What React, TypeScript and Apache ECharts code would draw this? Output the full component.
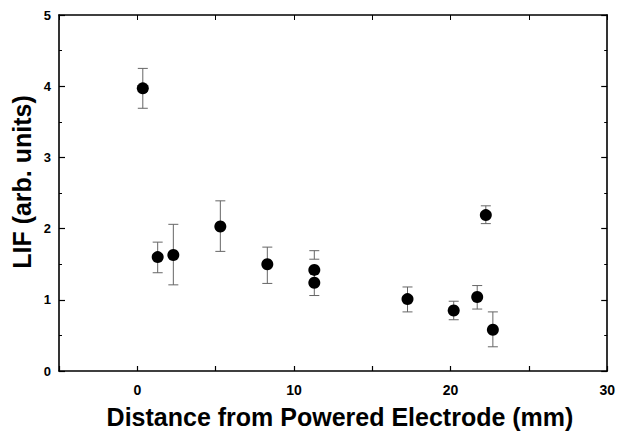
import React, { useEffect, useRef } from "react";
import * as echarts from "echarts";

const distance = [0.35, 1.3, 2.3, 5.3, 8.3, 11.3, 11.3, 17.25, 20.2, 21.7, 22.25, 22.7];
const lif = [3.97, 1.6, 1.63, 2.03, 1.5, 1.42, 1.24, 1.01, 0.85, 1.04, 2.19, 0.58];
const errLow = [3.69, 1.38, 1.21, 1.68, 1.23, 1.57, 1.06, 0.83, 0.72, 0.87, 2.07, 0.34];
const errHigh = [4.25, 1.81, 2.06, 2.39, 1.74, 1.69, 1.42, 1.18, 0.98, 1.2, 2.32, 0.83];
const xTicks = [0, 10, 20, 30];
const xTitle = "Distance from Powered Electrode (mm)";
const yTitle = "LIF (arb. units)";

const FONT = "Liberation Sans, Arial, sans-serif";

export default function App() {
  const ref = useRef<HTMLDivElement>(null);
  useEffect(() => {
    if (!ref.current) return;
    const chart = echarts.init(ref.current, undefined, { renderer: "svg" });
    const pts = distance.map((x, i) => [x, lif[i]]);
    const errs = distance.map((x, i) => [x, errLow[i], errHigh[i]]);
    const axisLine = { show: true, onZero: false, lineStyle: { color: "#000", width: 1.6 } };
    chart.setOption({
      animation: false,
      backgroundColor: "#fff",
      grid: { left: 59, right: 9, top: 15, bottom: 61, containLabel: false },
      graphic: [
        {
          type: "text",
          x: 340,
          y: 417,
          style: {
            text: xTitle,
            fontFamily: FONT,
            fontWeight: "bold",
            fontSize: 25,
            fill: "#000",
            align: "center",
            verticalAlign: "middle",
          },
        },
        {
          type: "text",
          x: 22,
          y: 182,
          rotation: Math.PI / 2,
          style: {
            text: yTitle,
            fontFamily: FONT,
            fontWeight: "bold",
            fontSize: 25,
            fill: "#000",
            align: "center",
            verticalAlign: "middle",
          },
        },
      ],
      xAxis: [
        {
          type: "value",
          min: -5,
          max: 30,
          interval: 5,
          position: "bottom",
          axisLine,
          axisTick: { show: true, inside: true, length: 5, lineStyle: { color: "#000", width: 1.2 } },
          axisLabel: {
            margin: 12,
            fontFamily: FONT,
            fontWeight: "bold",
            fontSize: 14,
            color: "#000",
            formatter: (v: number) => (xTicks.includes(v) ? String(v) : ""),
          },
          splitLine: { show: false },
        },
        {
          type: "value",
          min: -5,
          max: 30,
          interval: 5,
          position: "top",
          axisLine,
          axisTick: { show: true, inside: true, length: 5, lineStyle: { color: "#000", width: 1 } },
          axisLabel: { show: false },
          splitLine: { show: false },
        },
      ],
      yAxis: [
        {
          type: "value",
          min: 0,
          max: 5,
          interval: 1,
          position: "left",
          axisLine,
          axisTick: { show: true, inside: true, length: 6, lineStyle: { color: "#000", width: 1.2 } },
          minorTick: { show: true, splitNumber: 2, length: 3, lineStyle: { color: "#000", width: 1 } },
          axisLabel: { margin: 8, fontFamily: FONT, fontWeight: "bold", fontSize: 13, color: "#000" },
          splitLine: { show: false },
          minorSplitLine: { show: false },
        },
        {
          type: "value",
          min: 0,
          max: 5,
          interval: 1,
          position: "right",
          axisLine,
          axisTick: { show: true, inside: true, length: 6, lineStyle: { color: "#000", width: 1.2 } },
          minorTick: { show: true, splitNumber: 2, length: 3, lineStyle: { color: "#000", width: 1 } },
          axisLabel: { show: false },
          splitLine: { show: false },
          minorSplitLine: { show: false },
        },
      ],
      series: [
        {
          type: "custom",
          xAxisIndex: 0,
          yAxisIndex: 0,
          data: errs,
          encode: { x: 0, y: [1, 2] },
          renderItem: (params: any, api: any) => {
            const x = api.value(0);
            const lo = api.coord([x, api.value(1)]);
            const hi = api.coord([x, api.value(2)]);
            const hw = 5;
            const style = { stroke: "#666", lineWidth: 1 };
            return {
              type: "group",
              children: [
                { type: "line", shape: { x1: lo[0], y1: lo[1], x2: hi[0], y2: hi[1] }, style },
                { type: "line", shape: { x1: lo[0] - hw, y1: lo[1], x2: lo[0] + hw, y2: lo[1] }, style },
                { type: "line", shape: { x1: hi[0] - hw, y1: hi[1], x2: hi[0] + hw, y2: hi[1] }, style },
              ],
            };
          },
          z: 1,
        },
        {
          type: "scatter",
          xAxisIndex: 0,
          yAxisIndex: 0,
          data: pts,
          symbol: "circle",
          symbolSize: 12,
          itemStyle: { color: "#000", opacity: 1 },
          z: 2,
        },
      ],
    });
    return () => chart.dispose();
  }, []);
  return <div ref={ref} style={{ width: 618, height: 432, position: "absolute", left: 0, top: 0 }} />;
}
